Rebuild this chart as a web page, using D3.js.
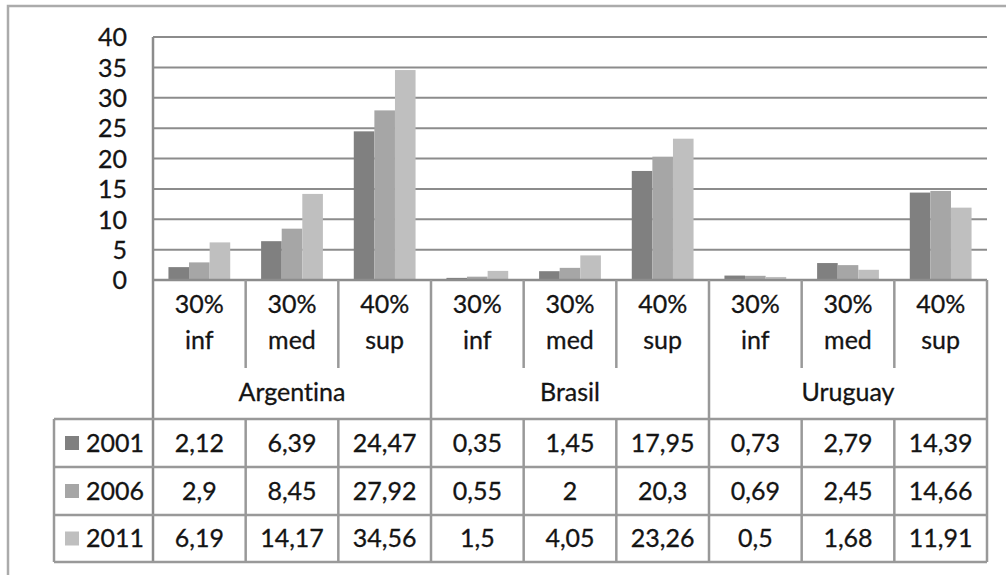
<!DOCTYPE html>
<html>
<head>
<meta charset="utf-8">
<script src="https://cdn.jsdelivr.net/npm/d3@7"></script>
<style>
  html, body { margin: 0; padding: 0; background: #fff; }
  svg { display: block; }
  text { font-family: Lato, "Open Sans", sans-serif; fill: #141414; stroke: #141414; stroke-width: 0.3px;
         font-variant-ligatures: none; font-feature-settings: "liga" 0; }
</style>
</head>
<body>
<svg id="chart" width="1006" height="575"></svg>
<script>
// Income shares by population stratum, per country and census year
const countries = ["Argentina", "Brasil", "Uruguay"];
const strata = [["30%", "inf"], ["30%", "med"], ["40%", "sup"]];
const years = ["2001", "2006", "2011"];
const values2001 = [2.12, 6.39, 24.47, 0.35, 1.45, 17.95, 0.73, 2.79, 14.39];
const values2006 = [2.9, 8.45, 27.92, 0.55, 2, 20.3, 0.69, 2.45, 14.66];
const values2011 = [6.19, 14.17, 34.56, 1.5, 4.05, 23.26, 0.5, 1.68, 11.91];
const yTicks = [0, 5, 10, 15, 20, 25, 30, 35, 40];
const seriesColors = ["#808080", "#a6a6a6", "#bfbfbf"];

const series = [values2001, values2006, values2011];
const categories = [];
countries.forEach(c => strata.forEach((s, i) => categories.push({ id: c + "-" + i, country: c, label: s })));

const svg = d3.select("#chart");
const gridColor = "#8c8c8c";
const tableColor = "#999";
const fontSize = 25;

// frame of the chart area
svg.append("path")
  .attr("d", "M8,575 L8,6 L1006,6")
  .attr("fill", "none")
  .attr("stroke", "#ababab")
  .attr("stroke-width", 2.5);

const plot = { left: 153, right: 987, top: 37, zero: 280 };
const headerBottom = 419, subDividerBottom = 368;
const rowLines = [419, 467, 515, 562];
const legendLeft = 54;

const x = d3.scaleBand().domain(categories.map(d => d.id)).range([plot.left, plot.right]);
const xSub = d3.scaleBand().domain(years).range([0, x.bandwidth()]).paddingInner(0).paddingOuter(0.75);
const y = d3.scaleLinear().domain([0, 40]).range([plot.zero, plot.top]);

// horizontal gridlines
svg.append("g").selectAll("line").data(yTicks.filter(t => t > 0)).join("line")
  .attr("x1", plot.left).attr("x2", plot.right)
  .attr("y1", d => y(d)).attr("y2", d => y(d))
  .attr("stroke", gridColor).attr("stroke-width", 2);

// y axis labels
const yAxis = d3.axisLeft(y).tickValues(yTicks).tickSize(0).tickPadding(0);
const ya = svg.append("g").attr("transform", "translate(127,0)").call(yAxis);
ya.select(".domain").remove();
ya.selectAll("text").attr("font-size", fontSize).attr("font-family", "Lato, sans-serif")
  .attr("fill", "#141414").attr("dy", "0.35em");

// bars
series.forEach((vals, si) => {
  svg.append("g").selectAll("rect").data(categories).join("rect")
    .attr("x", (d) => x(d.id) + xSub(years[si]))
    .attr("width", xSub.bandwidth())
    .attr("y", (d, i) => y(vals[i]))
    .attr("height", (d, i) => y(0) - y(vals[i]))
    .attr("fill", seriesColors[si]);
});

// axis line at zero and plot left edge
svg.append("line").attr("x1", plot.left).attr("x2", plot.right).attr("y1", plot.zero).attr("y2", plot.zero)
  .attr("stroke", gridColor).attr("stroke-width", 2.5);
svg.append("line").attr("x1", plot.left).attr("x2", plot.left).attr("y1", plot.top).attr("y2", rowLines[3])
  .attr("stroke", gridColor).attr("stroke-width", 2.5);

// data table grid
const grid = svg.append("g").attr("stroke", tableColor).attr("stroke-width", 2.5);
categories.forEach((d, i) => {
  const xl = x(d.id);
  if (i === 0) return;
  if (i % 3 === 0) {
    grid.append("line").attr("x1", xl).attr("x2", xl).attr("y1", plot.zero).attr("y2", rowLines[3]);
  } else {
    grid.append("line").attr("x1", xl).attr("x2", xl).attr("y1", plot.zero).attr("y2", subDividerBottom);
    grid.append("line").attr("x1", xl).attr("x2", xl).attr("y1", headerBottom).attr("y2", rowLines[3]);
  }
});
grid.append("line").attr("x1", plot.right).attr("x2", plot.right).attr("y1", plot.zero).attr("y2", rowLines[3]);
rowLines.forEach(ry => {
  grid.append("line").attr("x1", legendLeft).attr("x2", plot.right).attr("y1", ry).attr("y2", ry);
});
grid.append("line").attr("x1", legendLeft).attr("x2", legendLeft).attr("y1", rowLines[0]).attr("y2", rowLines[3]);

// category labels (two lines) and country labels
const header = svg.append("g").attr("font-size", fontSize).attr("text-anchor", "middle");
categories.forEach(d => {
  const cx = x(d.id) + x.bandwidth() / 2;
  header.append("text").attr("x", cx).attr("y", 304).attr("dy", "0.35em").text(d.label[0]);
  header.append("text").attr("x", cx).attr("y", 340).attr("dy", "0.35em").text(d.label[1]);
});
countries.forEach((c, ci) => {
  const x0 = x(c + "-0"), x1 = x(c + "-2") + x.bandwidth();
  header.append("text").attr("x", (x0 + x1) / 2).attr("y", 392).attr("dy", "0.35em").text(c);
});

// table rows: legend key plus values
const fmt = v => String(v).replace(".", ",");
series.forEach((vals, si) => {
  const cy = (rowLines[si] + rowLines[si + 1]) / 2;
  const row = svg.append("g").attr("font-size", fontSize);
  row.append("rect").attr("x", 65).attr("y", cy - 7).attr("width", 14).attr("height", 14).attr("fill", seriesColors[si]);
  row.append("text").attr("x", 86).attr("y", cy).attr("dy", "0.35em").text(years[si]);
  row.selectAll("text.v").data(categories).join("text").attr("class", "v")
    .attr("x", d => x(d.id) + x.bandwidth() / 2)
    .attr("y", cy).attr("dy", "0.35em")
    .attr("text-anchor", "middle")
    .text((d, i) => fmt(vals[i]));
});
</script>
</body>
</html>
